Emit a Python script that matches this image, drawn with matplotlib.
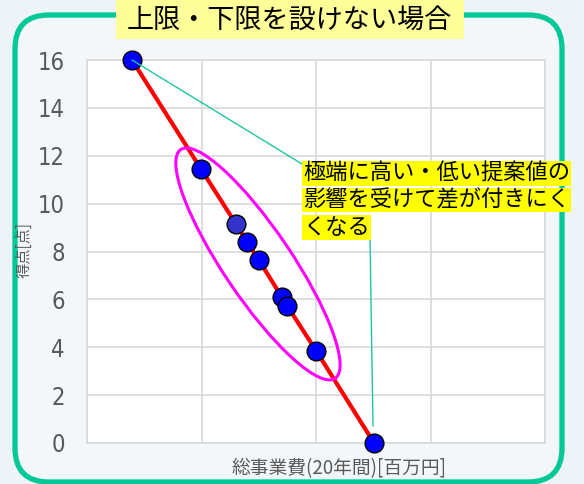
import matplotlib
matplotlib.use("Agg")
import matplotlib.pyplot as plt
import matplotlib.transforms as mtrans
from matplotlib.patches import Ellipse, FancyBboxPatch, Rectangle, ConnectionPatch

plt.rcParams['font.family'] = ['Noto Sans CJK JP', 'DejaVu Sans']

# data (x in million yen, no tick labels shown)
cost = [393, 998, 1301, 1400, 1502, 1700, 1747, 2003, 2507]
score = [16, 11.43, 9.15, 8.38, 7.63, 6.11, 5.74, 3.84, 0]
point_colors = ['#0000ff', '#0000ff', '#3333cc', '#0000ff', '#0000ff',
                '#0000ff', '#0000ff', '#0000ff', '#0000ff']
y_ticks = [0, 2, 4, 6, 8, 10, 12, 14, 16]
x_ticks = [0, 1000, 2000, 3000, 4000]

title = '上限・下限を設けない場合'
note_lines = ['極端に高い・低い提案値の', '影響を受けて差が付きにく', 'くなる']
xlabel = '総事業費(20年間)[百万円]'
ylabel = '得点[点]'

W, H = 584, 484
fig = plt.figure(figsize=(W / 100, H / 100), dpi=100, facecolor='#eef3f8')

def fx(px):
    return px / W

def fy(py):
    return 1 - py / H

# rounded teal frame (pixel coords)
frame = FancyBboxPatch((15, H - 482), 547, 467,
                       boxstyle='round,pad=0,rounding_size=34',
                       transform=mtrans.IdentityTransform(),
                       facecolor='#f4f7fa', edgecolor='#00c896', linewidth=3.8,
                       zorder=0)
fig.add_artist(frame)

ax = fig.add_axes([fx(87), fy(443), fx(545) - fx(87), fy(60) - fy(443)])
ax.set_facecolor('white')
ax.set_xlim(0, 4000)
ax.set_ylim(0, 16)
ax.set_xticks(x_ticks)
ax.set_yticks(y_ticks)
ax.set_xticklabels([])
ax.set_yticklabels([str(t) for t in y_ticks], color='#595959', fontsize=17,
                   family='DejaVu Sans', fontstretch='condensed')
ax.tick_params(length=0)
ax.tick_params(axis='y', pad=16)
ax.grid(True, color='#d9d9d9', linewidth=1.2)
ax.set_axisbelow(True)
for s in ax.spines.values():
    s.set_color('#d9d9d9')
    s.set_linewidth(1.2)

# red line through the points
ax.plot(cost, score, color='#ff0000', linewidth=3, zorder=3, clip_on=False)
for i in range(len(cost)):
    ax.plot(cost[i], score[i], 'o', markersize=13.5, markerfacecolor=point_colors[i],
            markeredgecolor='black', markeredgewidth=1, zorder=4 + i, clip_on=False)

# magenta ellipse around the middle points (size in inches, centre in data)
ell = Ellipse((0, 0), 2 * 1.38, 2 * 0.34, angle=-56, fill=False,
              edgecolor='#ff00ff', linewidth=2.2,
              transform=fig.dpi_scale_trans + mtrans.ScaledTranslation(1493, 7.48, ax.transData),
              zorder=15, clip_on=False)
ax.add_patch(ell)

fig.text(fx(24), fy(250), ylabel, rotation=90, ha='center', va='center',
         fontsize=11, color='#595959')
fig.text(fx(339), fy(469), xlabel, ha='center', va='center',
         fontsize=13.5, color='#595959')

# note text with yellow highlight, one line each
note_y = [173.5, 200, 227.5]
for line, py in zip(note_lines, note_y):
    fig.text(fx(303), fy(py), line, ha='left', va='center', fontsize=16,
             color='black', zorder=20,
             bbox=dict(boxstyle='square,pad=0.04', facecolor='#ffff00',
                       edgecolor='none'))

# teal connectors
c1 = ConnectionPatch(xyA=(cost[0], score[0]), coordsA=ax.transData,
                     xyB=(fx(302), fy(164)), coordsB=fig.transFigure,
                     color='#1cc8a0', linewidth=1, zorder=18)
fig.add_artist(c1)
c2 = ConnectionPatch(xyA=(fx(373), fy(426)), coordsA=fig.transFigure,
                     xyB=(fx(370), fy(238)), coordsB=fig.transFigure,
                     color='#1cc8a0', linewidth=1, zorder=18)
fig.add_artist(c2)

# title box
fig.add_artist(Rectangle((fx(116), fy(39)), fx(464) - fx(116), fy(0) - fy(39),
                         transform=fig.transFigure, facecolor='#ffff99',
                         edgecolor='none', zorder=5))
fig.text(fx(289), fy(20), title, ha='center', va='center', fontsize=19.5,
         color='black', zorder=6)

fig.savefig('out.png', dpi=100, facecolor=fig.get_facecolor())
